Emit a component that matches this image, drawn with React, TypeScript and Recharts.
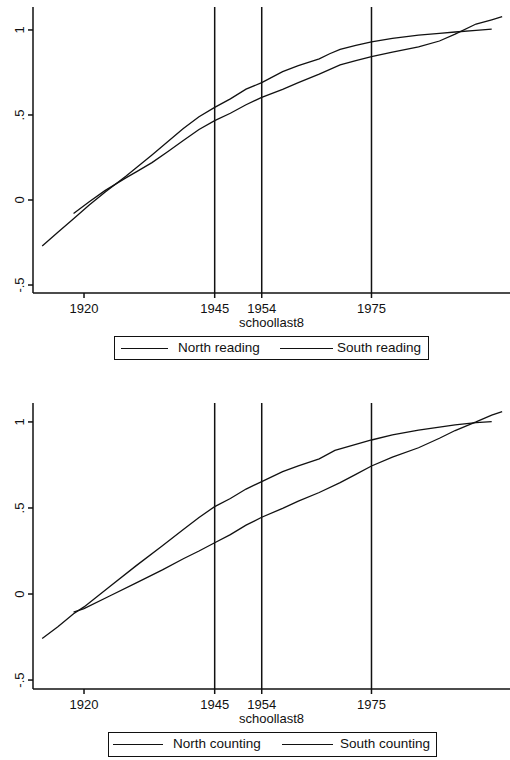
import React from 'react'
import { LineChart, Line, XAxis, YAxis, ReferenceLine } from 'recharts'

// x positions of the cutoffs and axis ticks
const xTicks = [1920, 1945, 1954, 1975]
const cutoffs = [1945, 1954, 1975]
const yTicks = [-0.5, 0, 0.5, 1]

// top panel: reading
const northReadingYears = [1912, 1915, 1918, 1921, 1924, 1928, 1930, 1933, 1936, 1939, 1942, 1945, 1948, 1951, 1954, 1958, 1961, 1965, 1967, 1969, 1972, 1975, 1979, 1984, 1988, 1991, 1995, 1998]
const northReadingValues = [-0.27, -0.19, -0.11, -0.03, 0.045, 0.14, 0.19, 0.265, 0.343, 0.42, 0.49, 0.545, 0.595, 0.652, 0.69, 0.755, 0.79, 0.83, 0.86, 0.886, 0.91, 0.93, 0.95, 0.97, 0.98, 0.988, 0.997, 1.005]

const southReadingYears = [1918, 1921, 1924, 1928, 1930, 1933, 1936, 1939, 1942, 1945, 1948, 1951, 1954, 1958, 1961, 1965, 1969, 1972, 1975, 1979, 1984, 1988, 1991, 1995, 1998, 2000]
const southReadingValues = [-0.08, -0.01, 0.055, 0.13, 0.165, 0.22, 0.284, 0.35, 0.415, 0.467, 0.51, 0.56, 0.604, 0.651, 0.69, 0.74, 0.794, 0.82, 0.843, 0.87, 0.9, 0.935, 0.975, 1.035, 1.06, 1.078]

// bottom panel: counting
const northCountingYears = [1912, 1915, 1918, 1920, 1925, 1930, 1935, 1939, 1942, 1945, 1948, 1951, 1954, 1958, 1961, 1965, 1968, 1972, 1975, 1979, 1984, 1988, 1991, 1995, 1998]
const northCountingValues = [-0.258, -0.19, -0.115, -0.075, 0.045, 0.165, 0.28, 0.375, 0.445, 0.508, 0.555, 0.61, 0.653, 0.711, 0.745, 0.785, 0.835, 0.87, 0.895, 0.925, 0.952, 0.97, 0.983, 0.996, 1.002]

const southCountingYears = [1918, 1920, 1925, 1930, 1935, 1939, 1942, 1945, 1948, 1951, 1954, 1958, 1961, 1965, 1969, 1972, 1975, 1979, 1984, 1988, 1991, 1995, 1998, 2000]
const southCountingValues = [-0.105, -0.085, -0.01, 0.065, 0.14, 0.205, 0.25, 0.298, 0.345, 0.4, 0.446, 0.498, 0.54, 0.59, 0.647, 0.695, 0.744, 0.795, 0.85, 0.905, 0.95, 1.0, 1.04, 1.06]

const toPoints = (years: number[], values: number[]) =>
  years.map((year, i) => ({ year, value: values[i] }))

const FONT = '"Liberation Sans", Arial, sans-serif'
const INK = '#111'

function fmtY(v: number) {
  if (v === 0) return '0'
  if (v === 1) return '1'
  return v < 0 ? '-' + String(Math.abs(v)).replace(/^0/, '') : String(v).replace(/^0/, '')
}

function YTick(props: any) {
  const { x, y, payload } = props
  return (
    <text
      x={x}
      y={y}
      transform={`rotate(-90 ${x} ${y})`}
      textAnchor="middle"
      fontSize={13}
      fontFamily={FONT}
      fill={INK}
    >
      {fmtY(payload.value)}
    </text>
  )
}

interface PanelProps {
  top: number
  north: { year: number; value: number }[]
  south: { year: number; value: number }[]
  yDomain: [number, number]
  northName: string
  southName: string
}

function Panel({ top, north, south, yDomain, northName, southName }: PanelProps) {
  return (
    <div style={{ position: 'absolute', left: 0, top }}>
      <LineChart width={510} height={330} margin={{ top: 7, right: 0, bottom: 1, left: 0 }}>
        <XAxis
          dataKey="year"
          type="number"
          domain={[1910.24, 2001.5]}
          allowDataOverflow
          ticks={xTicks}
          interval={0}
          height={36}
          tickSize={5}
          tickMargin={6}
          stroke={INK}
          strokeWidth={1.5}
          tick={{ fill: INK, fontSize: 13, fontFamily: FONT }}
          label={{
            value: 'schoollast8',
            position: 'insideBottom',
            offset: 2,
            fill: INK,
            fontSize: 13,
            fontFamily: FONT,
          }}
        />
        <YAxis
          type="number"
          domain={yDomain}
          allowDataOverflow
          ticks={yTicks}
          width={33}
          tickSize={5}
          tickMargin={3.5}
          stroke={INK}
          strokeWidth={1.5}
          tick={<YTick />}
        />
        {cutoffs.map((c) => (
          <ReferenceLine key={c} x={c} stroke={INK} strokeWidth={1.5} />
        ))}
        <Line
          data={north}
          dataKey="value"
          name={northName}
          type="linear"
          stroke={INK}
          strokeWidth={1.3}
          dot={false}
          isAnimationActive={false}
        />
        <Line
          data={south}
          dataKey="value"
          name={southName}
          type="linear"
          stroke={INK}
          strokeWidth={1.3}
          dot={false}
          isAnimationActive={false}
        />
      </LineChart>
    </div>
  )
}

interface LegendProps {
  left: number
  top: number
  width: number
  height: number
  labels: [string, string]
  lineX: [number, number, number, number]
  textX: [number, number]
}

function LegendBox({ left, top, width, height, labels, lineX, textX }: LegendProps) {
  const mid = height / 2
  return (
    <div
      style={{
        position: 'absolute',
        left,
        top,
        width,
        height,
        border: `1.5px solid ${INK}`,
        boxSizing: 'border-box',
        fontFamily: FONT,
        fontSize: 13.5,
        color: INK,
      }}
    >
      <div style={{ position: 'absolute', left: lineX[0], width: lineX[1] - lineX[0], top: mid - 1.5, borderTop: `1.3px solid ${INK}` }} />
      <span style={{ position: 'absolute', left: textX[0], top: 0, lineHeight: `${height - 3}px`, whiteSpace: 'nowrap' }}>{labels[0]}</span>
      <div style={{ position: 'absolute', left: lineX[2], width: lineX[3] - lineX[2], top: mid - 1.5, borderTop: `1.3px solid ${INK}` }} />
      <span style={{ position: 'absolute', left: textX[1], top: 0, lineHeight: `${height - 3}px`, whiteSpace: 'nowrap' }}>{labels[1]}</span>
    </div>
  )
}

export default function App() {
  return (
    <div style={{ position: 'absolute', left: 0, top: 0, width: 510, height: 760, background: '#fff', overflow: 'hidden' }}>
      <Panel
        top={0}
        north={toPoints(northReadingYears, northReadingValues)}
        south={toPoints(southReadingYears, southReadingValues)}
        yDomain={[-0.547, 1.135]}
        northName="North reading"
        southName="South reading"
      />
      <LegendBox
        left={114}
        top={336}
        width={315}
        height={24}
        labels={['North reading', 'South reading']}
        lineX={[6, 53, 165, 218]}
        textX={[63, 222]}
      />
      <Panel
        top={396}
        north={toPoints(northCountingYears, northCountingValues)}
        south={toPoints(southCountingYears, southCountingValues)}
        yDomain={[-0.552, 1.11]}
        northName="North counting"
        southName="South counting"
      />
      <LegendBox
        left={108}
        top={732}
        width={329}
        height={25}
        labels={['North counting', 'South counting']}
        lineX={[4, 54, 173, 224]}
        textX={[64, 231]}
      />
    </div>
  )
}
